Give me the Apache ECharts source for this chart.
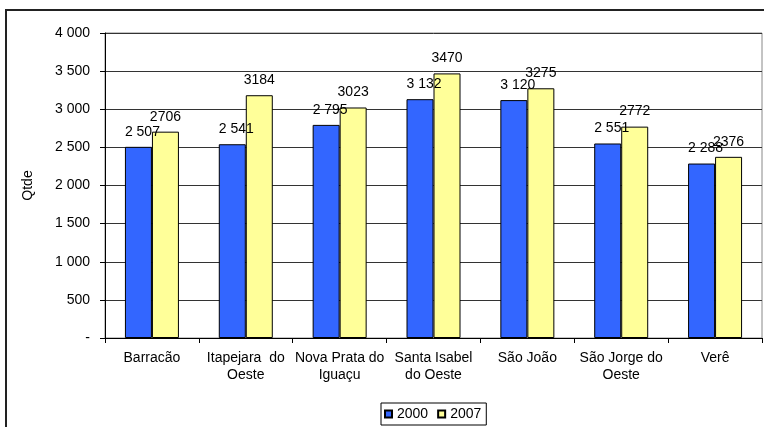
<!DOCTYPE html>
<html>
<head>
<meta charset="utf-8">
<script src="https://cdn.jsdelivr.net/npm/echarts@6/dist/echarts.min.js"></script>
<style>
html,body{margin:0;padding:0;background:#fff;}
#chart{width:764px;height:427px;}
</style>
</head>
<body>
<div id="chart"></div>
<script>
const categories = ['Barracão', 'Itapejara  do\nOeste', 'Nova Prata do\nIguaçu', 'Santa Isabel\ndo Oeste', 'São João', 'São Jorge do\nOeste', 'Verê'];
const seriesNames = ['2000', '2007'];
const values2000 = [2507, 2541, 2795, 3132, 3120, 2551, 2288];
const values2007 = [2706, 3184, 3023, 3470, 3275, 2772, 2376];
const yTicks = { min: 0, max: 4000, interval: 500 };

const FONT = '"Liberation Sans", Arial, sans-serif';
const FS = 14;
function spaced(v) {
  return String(Math.round(v)).replace(/\B(?=(\d{3})+(?!\d))/g, ' ');
}

const chart = echarts.init(document.getElementById('chart'));
chart.setOption({
  animation: false,
  backgroundColor: '#fff',
  textStyle: { fontFamily: FONT, color: '#000' },
  graphic: [{
    type: 'rect',
    shape: { x: 6, y: 10, width: 800, height: 460 },
    style: { fill: 'none', stroke: '#222', lineWidth: 2 },
    silent: true
  }],
  grid: {
    left: 105, top: 33, right: 2, bottom: 89,
    show: true, borderColor: '#888', borderWidth: 1,
    outerBoundsMode: 'none'
  },
  legend: {
    data: seriesNames,
    left: 381, bottom: 2,
    padding: [4, 5, 4, 3],
    itemWidth: 7, itemHeight: 7, itemGap: 9,
    borderColor: '#000', borderWidth: 1,
    textStyle: { fontFamily: FONT, fontSize: FS, color: '#000' },
    icon: 'rect'
  },
  xAxis: {
    type: 'category',
    data: categories,
    axisLine: { lineStyle: { color: '#000', width: 1 } },
    axisTick: { show: true, length: 5, lineStyle: { color: '#000' } },
    axisLabel: { fontFamily: FONT, fontSize: FS, color: '#000', margin: 12, lineHeight: 17, interval: 0 },
    splitLine: { show: false }
  },
  yAxis: {
    type: 'value',
    min: yTicks.min, max: yTicks.max, interval: yTicks.interval,
    name: 'Qtde',
    nameLocation: 'middle',
    nameGap: 70,
    nameTextStyle: { fontFamily: FONT, fontSize: FS, color: '#000' },
    axisLine: { show: true, lineStyle: { color: '#000', width: 1 } },
    axisTick: { show: true, length: 5, lineStyle: { color: '#000' } },
    axisLabel: {
      fontFamily: FONT, fontSize: FS, color: '#000', margin: 15,
      formatter: v => v === 0 ? '-' : spaced(v)
    },
    splitLine: { show: true, lineStyle: { color: '#333', width: 1 } }
  },
  series: [
    {
      name: seriesNames[0],
      type: 'bar',
      data: values2000,
      barWidth: 27,
      barGap: '0%',
      itemStyle: { color: '#3366FF', borderColor: '#000', borderWidth: 1 },
      label: {
        show: true, position: 'top', distance: 8, offset: [4, 0],
        fontFamily: FONT, fontSize: FS, color: '#000',
        formatter: p => spaced(p.value)
      }
    },
    {
      name: seriesNames[1],
      type: 'bar',
      data: values2007,
      barWidth: 27,
      barGap: '0%',
      itemStyle: { color: '#FFFF99', borderColor: '#000', borderWidth: 1 },
      label: {
        show: true, position: 'top', distance: 8,
        fontFamily: FONT, fontSize: FS, color: '#000',
        formatter: p => String(p.value)
      }
    }
  ]
});
</script>
</body>
</html>
